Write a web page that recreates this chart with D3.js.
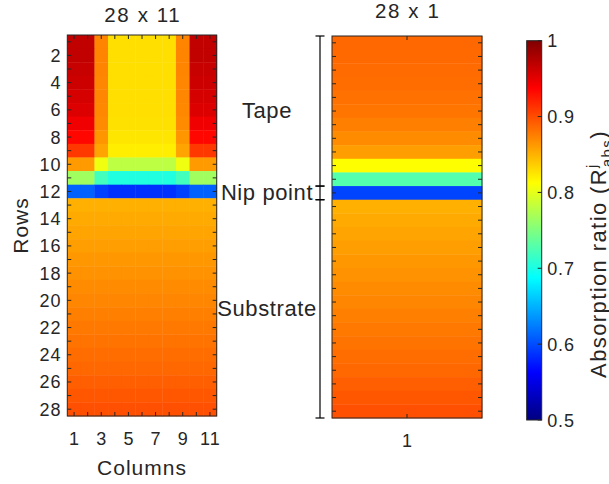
<!DOCTYPE html>
<html>
<head>
<meta charset="utf-8">
<script src="https://cdn.jsdelivr.net/npm/d3@7"></script>
<style>
  body { margin: 0; background: #fff; }
  svg { display: block; }
  text { font-family: "Liberation Sans", Arial, sans-serif; fill: #262626; }
</style>
</head>
<body>
<svg id="chart" width="609" height="484"></svg>
<script>
// ---- data -------------------------------------------------------------
const rowIds = d3.range(1, 29);          // 28 rows
const colIds = d3.range(1, 12);          // 11 columns
const rowTickLabels = [2, 4, 6, 8, 10, 12, 14, 16, 18, 20, 22, 24, 26, 28];
const colTickLabels = [1, 3, 5, 7, 9, 11];
const colorbarTicks = [0.5, 0.6, 0.7, 0.8, 0.9, 1];

// rows 1-12 (tape + nip point) for each column group of the 28 x 11 grid
const tapeEdge     = [0.968, 0.968, 0.965, 0.962, 0.958, 0.954, 0.945, 0.934, 0.910, 0.862, 0.766, 0.610];
const tapeShoulder = [0.873, 0.873, 0.873, 0.872, 0.872, 0.871, 0.869, 0.864, 0.857, 0.805, 0.720, 0.594];
const tapeCenter   = [0.828, 0.828, 0.828, 0.828, 0.828, 0.828, 0.827, 0.825, 0.821, 0.780, 0.703, 0.586];
const columnGroup  = ["edge", "edge", "shoulder", "center", "center", "center",
                      "center", "center", "shoulder", "edge", "edge"];

// rows 13-28 (substrate), equal across all columns
const substrateRows = [0.851, 0.854, 0.857, 0.860, 0.863, 0.866, 0.869, 0.872,
                       0.875, 0.878, 0.881, 0.884, 0.887, 0.891, 0.895, 0.899];

// 28 x 1 grid
const singleTape      = [0.887, 0.886, 0.885, 0.884, 0.882, 0.880, 0.875, 0.869, 0.860, 0.813, 0.728, 0.596];
const singleSubstrate = [0.851, 0.854, 0.857, 0.860, 0.863, 0.866, 0.869, 0.872,
                         0.875, 0.878, 0.881, 0.884, 0.887, 0.891, 0.895, 0.899];

// zones marked next to the 28 x 1 grid (row extents)
const zoneNames = ["Tape", "Nip point", "Substrate"];
const zoneStart = [0.5, 11.5, 12.5];
const zoneEnd   = [11.5, 12.5, 28.5];

// ---- helpers ----------------------------------------------------------
const tapeByGroup = { edge: tapeEdge, shoulder: tapeShoulder, center: tapeCenter };

const gridCells = [];
rowIds.forEach(r => colIds.forEach(c => {
  const v = r <= 12 ? tapeByGroup[columnGroup[c - 1]][r - 1] : substrateRows[r - 13];
  gridCells.push({ row: r, col: c, value: v });
}));
const singleCells = rowIds.map(r => ({
  row: r, col: 1, value: r <= 12 ? singleTape[r - 1] : singleSubstrate[r - 13]
}));

// jet colour map over [0.5, 1]
const jetDomain = [0.5, 0.5625, 0.6875, 0.8125, 0.9375, 1];
const jetRange  = ["#000080", "#0000ff", "#00ffff", "#ffff00", "#ff0000", "#800000"];
const color = d3.scaleLinear().domain(jetDomain).range(jetRange).clamp(true);

const svg = d3.select("#chart");
const axisColor = "#262626";
const tickLen = 4;
const tickFont = 18, tickSpacing = 0.9;

function drawHeatmap(cells, xs, ys, opts) {
  const g = svg.append("g");
  g.selectAll("rect.cell").data(cells).join("rect")
    .attr("class", "cell")
    .attr("x", d => xs(d.col))
    .attr("y", d => ys(d.row))
    .attr("width", xs.bandwidth() + 0.4)
    .attr("height", ys.bandwidth() + 0.4)
    .attr("fill", d => color(d.value));

  const [x0, x1] = xs.range();
  const [y0, y1] = ys.range();

  // inward ticks at every column / row on all four sides
  xs.domain().forEach(c => {
    const cx = xs(c) + xs.bandwidth() / 2;
    g.append("line").attr("x1", cx).attr("x2", cx).attr("y1", y0).attr("y2", y0 + tickLen)
      .attr("stroke", axisColor);
    g.append("line").attr("x1", cx).attr("x2", cx).attr("y1", y1).attr("y2", y1 - tickLen)
      .attr("stroke", axisColor);
  });
  ys.domain().forEach(r => {
    const cy = ys(r) + ys.bandwidth() / 2;
    g.append("line").attr("x1", x0).attr("x2", x0 + tickLen).attr("y1", cy).attr("y2", cy)
      .attr("stroke", axisColor);
    g.append("line").attr("x1", x1).attr("x2", x1 - tickLen).attr("y1", cy).attr("y2", cy)
      .attr("stroke", axisColor);
  });

  g.append("rect")
    .attr("x", x0).attr("y", y0).attr("width", x1 - x0).attr("height", y1 - y0)
    .attr("fill", "none").attr("stroke", axisColor).attr("stroke-width", 1);

  // tick labels
  opts.xLabels.forEach(c => {
    g.append("text")
      .attr("x", xs(c) + xs.bandwidth() / 2 + tickSpacing / 2).attr("y", y1 + 29)
      .attr("text-anchor", "middle").attr("font-size", tickFont)
      .attr("letter-spacing", tickSpacing)
      .text(c);
  });
  (opts.yLabels || []).forEach(r => {
    g.append("text")
      .attr("x", x0 - 6).attr("y", ys(r) + ys.bandwidth() / 2 + 6.5)
      .attr("text-anchor", "end").attr("font-size", tickFont)
      .attr("letter-spacing", tickSpacing)
      .text(r);
  });

  g.append("text")
    .attr("x", (x0 + x1) / 2 + 0.8).attr("y", opts.titleY)
    .attr("text-anchor", "middle").attr("font-size", 20.5)
    .attr("letter-spacing", 1.6)
    .text(opts.title);
  return g;
}

// ---- 28 x 11 grid -----------------------------------------------------
const xGrid = d3.scaleBand().domain(colIds).range([67.3, 216.7]);
const yGrid = d3.scaleBand().domain(rowIds).range([35, 416]);
drawHeatmap(gridCells, xGrid, yGrid, {
  xLabels: colTickLabels, yLabels: rowTickLabels, title: "28 x 11", titleY: 21.5
});
svg.append("text")
  .attr("transform", `translate(28,${(35 + 416) / 2}) rotate(-90)`)
  .attr("text-anchor", "middle").attr("font-size", 21)
  .attr("letter-spacing", 1)
  .text("Rows");
svg.append("text")
  .attr("x", (67.3 + 216.7) / 2).attr("y", 475)
  .attr("text-anchor", "middle").attr("font-size", 21)
  .attr("letter-spacing", 1)
  .text("Columns");

// ---- 28 x 1 grid ------------------------------------------------------
const xSingle = d3.scaleBand().domain([1]).range([332, 482]);
const ySingle = d3.scaleBand().domain(rowIds).range([36, 418]);
drawHeatmap(singleCells, xSingle, ySingle, {
  xLabels: [1], yLabels: [], title: "28 x 1", titleY: 17.5
});

// ---- zone brackets ----------------------------------------------------
const yZone = d3.scaleLinear().domain([0.5, 28.5]).range(ySingle.range());
const bx = 320, capHalf = 4.5;
const zg = svg.append("g");
zoneNames.forEach((name, i) => {
  const ya = yZone(zoneStart[i]), yb = yZone(zoneEnd[i]);
  zg.append("line").attr("x1", bx).attr("x2", bx).attr("y1", ya).attr("y2", yb)
    .attr("stroke", "#000").attr("stroke-width", 1.2);
  [ya, yb].forEach(y => zg.append("line")
    .attr("x1", bx - capHalf).attr("x2", bx + capHalf).attr("y1", y).attr("y2", y)
    .attr("stroke", "#000").attr("stroke-width", 1.2));
  zg.append("text")
    .attr("x", 267).attr("y", (ya + yb) / 2)
    .attr("dy", "0.33em")
    .attr("text-anchor", "middle").attr("font-size", 22)
    .attr("letter-spacing", 0.6)
    .attr("fill", "#000")
    .text(name);
});

// ---- colour bar -------------------------------------------------------
const cbX = 526.7, cbW = 15;
const yBar = d3.scaleLinear().domain([0.5, 1]).range([420, 40.7]);
const defs = svg.append("defs");
const grad = defs.append("linearGradient").attr("id", "jetGrad")
  .attr("x1", 0).attr("y1", 1).attr("x2", 0).attr("y2", 0);
grad.selectAll("stop").data(jetDomain).join("stop")
  .attr("offset", d => (d - 0.5) / 0.5)
  .attr("stop-color", d => color(d));
svg.append("rect")
  .attr("x", cbX).attr("y", yBar(1)).attr("width", cbW).attr("height", yBar(0.5) - yBar(1))
  .attr("fill", "url(#jetGrad)").attr("stroke", axisColor).attr("stroke-width", 1);
colorbarTicks.forEach(t => {
  svg.append("line")
    .attr("x1", cbX + cbW - tickLen).attr("x2", cbX + cbW)
    .attr("y1", yBar(t)).attr("y2", yBar(t)).attr("stroke", axisColor);
  svg.append("text")
    .attr("x", cbX + cbW + 5.5).attr("y", yBar(t) + 6.5)
    .attr("font-size", tickFont)
    .attr("letter-spacing", tickSpacing)
    .text(t === 1 ? "1" : d3.format(".1f")(t));
});
const cbLabel = svg.append("text")
  .attr("transform", `translate(606,254) rotate(-90)`)
  .attr("text-anchor", "middle").attr("font-size", 22)
  .attr("letter-spacing", 1.4);
cbLabel.append("tspan").text("Absorption ratio (R");
cbLabel.append("tspan").attr("font-size", 15).attr("dy", -9).text("j");
cbLabel.append("tspan").attr("font-size", 15).attr("dx", -4).attr("dy", 15).text("abs");
cbLabel.append("tspan").attr("dy", -6).text(")");
</script>
</body>
</html>
